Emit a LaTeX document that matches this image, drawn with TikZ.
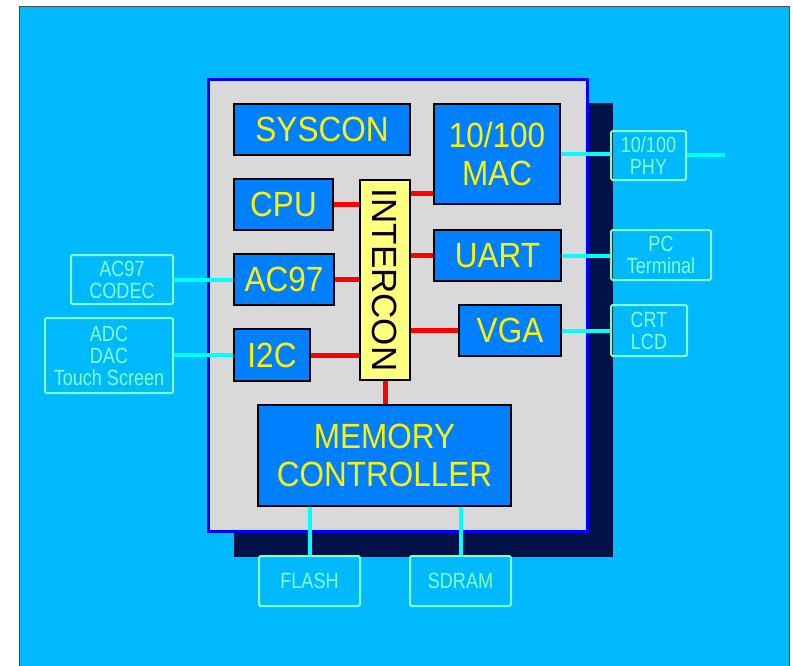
\documentclass[tikz,border=0pt]{standalone}
\usepackage{fontspec}
\setmainfont{Liberation Sans}
\newfontfamily\blockfont{Liberation Sans}[FakeStretch=0.9]
\newfontfamily\periphfont{Liberation Sans}[FakeStretch=0.82]
\definecolor{bgcyan}{RGB}{0,185,255}
\definecolor{chipgray}{RGB}{217,217,217}
\definecolor{chipedge}{RGB}{0,0,255}
\definecolor{shadownavy}{RGB}{0,18,72}
\definecolor{blockblue}{RGB}{0,128,255}
\definecolor{busyellow}{RGB}{255,255,128}
\definecolor{periphgreen}{RGB}{128,255,192}
\definecolor{linkcyan}{RGB}{0,255,255}
\begin{document}
\begin{tikzpicture}[
        x=1pt, y=-1pt,
        block/.style={draw=black, line width=2.5pt, fill=blockblue, text=yellow, align=center, inner sep=0pt,
            font=\blockfont\fontsize{35}{38}\selectfont},
        periph/.style={draw=periphgreen, line width=2pt, rounded corners=1.5pt, text=periphgreen, align=center,
            inner sep=0pt, font=\periphfont\fontsize{22}{22}\selectfont},
        bus/.style={draw=red, line width=5pt},
        link/.style={draw=linkcyan, line width=4pt}
    ]
    \useasboundingbox (0,0) rectangle (793,665);
    \filldraw[fill=bgcyan, draw=black!70, line width=1pt] (19,6) rectangle (789,670);
    \fill[shadownavy] (234,103) rectangle (613,557);
    \filldraw[fill=chipgray, draw=chipedge, line width=3pt] (208,79) rectangle (587,531);

    \node[block, minimum width=176, minimum height=51] (syscon) at (322,129.5) {SYSCON};
    \node[block, minimum width=126, minimum height=100] (mac) at (497,154) {10/100\\MAC};
    \node[block, minimum width=99, minimum height=51] (cpu) at (283.5,204.5) {CPU};
    \node[block, fill=busyellow, text=black, minimum width=50, minimum height=200,
        font=\fontsize{35}{38}\selectfont] (icon) at (385,280) {\rotatebox{-90}{INTERCON}};
    \node[block, minimum width=127, minimum height=51] (uart) at (497.5,255.5) {UART};
    \node[block, minimum width=100, minimum height=51] (ac97) at (284,279.5) {AC97};
    \node[block, minimum width=102, minimum height=51] (vga) at (510,330.5) {VGA};
    \node[block, minimum width=76, minimum height=52] (i2c) at (272,355) {I2C};
    \node[block, minimum width=253, minimum height=101] (mem) at (384.5,455.5) {MEMORY\\CONTROLLER};

    \node[periph, minimum width=75, minimum height=49] (phy) at (648.5,155.5) {10/100\\PHY};
    \node[periph, minimum width=100, minimum height=50] (pcterm) at (661,255) {PC\\Terminal};
    \node[periph, minimum width=76, minimum height=51] (crt) at (649,330.5) {CRT\\LCD};
    \node[periph, minimum width=102, minimum height=49] (codec) at (122,279.5) {AC97\\CODEC};
    \node[periph, minimum width=128, minimum height=75] (adc) at (109,355.5) {ADC\\DAC\\Touch Screen};
    \node[periph, minimum width=101, minimum height=50] (flash) at (309.5,581) {FLASH};
    \node[periph, minimum width=101, minimum height=50] (sdram) at (460.5,581) {SDRAM};
    \coordinate (net) at (725,155);

    \draw[bus] (cpu.east) -- (cpu.east -| icon.west);
    \draw[bus] (ac97.east) -- (ac97.east -| icon.west);
    \draw[bus] (i2c.east) -- (i2c.east -| icon.west);
    \draw[bus] ([yshift=12pt]mac.south west -| icon.east) -- ([yshift=12pt]mac.south west);
    \draw[bus] (uart.west -| icon.east) -- (uart.west);
    \draw[bus] (vga.west -| icon.east) -- (vga.west);
    \draw[bus] (icon.south) -- (icon.south |- mem.north);

    \draw[link] (mac.east) -- (mac.east -| phy.west);
    \draw[link] (phy.east |- net) -- (net);
    \draw[link] (uart.east) -- (uart.east -| pcterm.west);
    \draw[link] (vga.east) -- (vga.east -| crt.west);
    \draw[link] (codec.east) -- (codec.east -| ac97.west);
    \draw[link] (adc.east |- i2c.west) -- (i2c.west);
    \draw[link] (flash.north |- mem.south) -- (flash.north);
    \draw[link] (sdram.north |- mem.south) -- (sdram.north);
\end{tikzpicture}
\end{document}
